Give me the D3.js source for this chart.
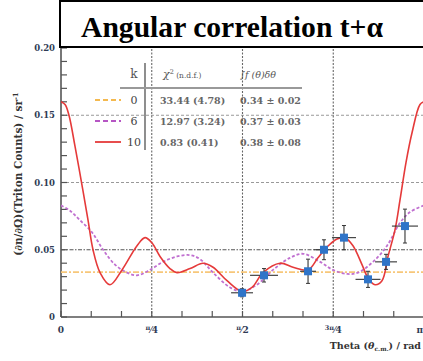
<!DOCTYPE html>
<html><head><meta charset="utf-8">
<script src="https://cdn.jsdelivr.net/npm/d3@7"></script>
<style>html,body{margin:0;padding:0;background:#fff;overflow:hidden}</style>
</head><body><svg id="c" width="423" height="361"></svg>
<script>
// ---- data (theta in rad, value in counts/sr) ----
const redTheta = [0,0.035,0.069,0.121,0.190,0.234,0.277,0.338,0.424,0.528,0.658,0.727,0.788,0.857,0.943,1.004,1.117,1.229,1.316,1.437,1.567,1.653,1.748,1.895,2.008,2.138,2.224,2.302,2.389,2.458,2.527,2.605,2.657,2.718,2.778,2.830,2.891,2.934,2.986,3.038,3.107,3.142];
const redVal   = [0.160,0.158,0.150,0.127,0.094,0.072,0.050,0.033,0.024,0.035,0.053,0.059,0.055,0.045,0.036,0.033,0.036,0.040,0.037,0.027,0.019,0.022,0.033,0.040,0.037,0.035,0.044,0.052,0.058,0.059,0.053,0.039,0.029,0.024,0.027,0.045,0.065,0.087,0.115,0.137,0.158,0.160];
const purpleTheta = [0,0.078,0.164,0.268,0.364,0.467,0.571,0.658,0.770,0.883,1.004,1.117,1.203,1.316,1.463,1.567,1.696,1.835,1.982,2.095,2.242,2.354,2.475,2.571,2.700,2.822,2.934,3.021,3.142];
const purpleVal   = [0.083,0.079,0.072,0.063,0.050,0.039,0.033,0.031,0.035,0.041,0.045,0.046,0.043,0.033,0.022,0.019,0.024,0.035,0.044,0.047,0.041,0.035,0.032,0.033,0.041,0.053,0.070,0.078,0.083];
const orangeTheta = [0, 3.142];
const orangeVal   = [0.0334, 0.0334];
const ptTheta = [1.567,1.757,2.138,2.276,2.449,2.657,2.813,2.977];
const ptVal   = [0.018,0.031,0.034,0.050,0.059,0.028,0.041,0.0676];
const ptErrTheta = [0.095,0.121,0.069,0.087,0.104,0.108,0.095,0.113];
const ptErrVal   = [0.003,0.005,0.009,0.0074,0.009,0.006,0.0056,0.0126];
const yTicks = [0,0.05,0.10,0.15,0.20];
const yTickLabels = ["0","0.05","0.10","0.15","0.20"];
const xMajorK = [0,1,2,3,4];           // multiples of pi/4
const legendK = ["0","6","10"];
const legendChi = ["33.44 (4.78)","12.97 (3.24)","0.83 (0.41)"];
const legendInt = ["0.34 ± 0.02","0.37 ± 0.03","0.38 ± 0.08"];
const legendColors = ["#f4b94f","#b656c4","#e53a3a"];

// ---- scales ----
const svg = d3.select("#c");
const x = d3.scaleLinear().domain([0, Math.PI]).range([61, 424]);
const y = d3.scaleLinear().domain([0, 0.20]).range([317, 48]);
const labCol = "#2f3b55";

// grid
const gh = svg.append("g");
[0.05,0.10,0.15].forEach(v=>{
  gh.append("line").attr("x1",x(0)).attr("x2",x(Math.PI)).attr("y1",y(v)).attr("y2",y(v))
    .attr("stroke", v===0.05?"#555":"#999").attr("stroke-width",v===0.05?1.2:1)
    .attr("stroke-dasharray", v===0.05?"4,1.5,1.5,1.5":"3,2");
});
[1,2,3].forEach(k=>{
  gh.append("line").attr("x1",x(k*Math.PI/4)).attr("x2",x(k*Math.PI/4)).attr("y1",y(0)).attr("y2",y(0.2))
    .attr("stroke","#666").attr("stroke-width",1.1).attr("stroke-dasharray","2,1.5");
});

// minor ticks
const minorY = d3.range(0,0.2001,0.01);
svg.append("g").selectAll("line").data(minorY).join("line")
  .attr("x1",x(0)).attr("x2",x(0)+6).attr("y1",d=>y(d)).attr("y2",d=>y(d))
  .attr("stroke","#555").attr("stroke-width",1.2);
const minorX = d3.range(0,13).map(i=>i*Math.PI/12);
svg.append("g").selectAll("line").data(minorX).join("line")
  .attr("x1",d=>x(d)).attr("x2",d=>x(d)).attr("y1",y(0)).attr("y2",y(0)-6)
  .attr("stroke","#555").attr("stroke-width",1.2);

// axes lines
svg.append("line").attr("x1",x(0)).attr("x2",x(0)).attr("y1",y(0)).attr("y2",y(0.2)).attr("stroke","#555").attr("stroke-width",1.6);
svg.append("line").attr("x1",x(0)).attr("x2",x(Math.PI)).attr("y1",y(0)).attr("y2",y(0)).attr("stroke","#555").attr("stroke-width",1.6);

// y tick labels
svg.append("g").selectAll("text").data(yTicks).join("text")
  .attr("x",55).attr("y",d=>y(d)+3).attr("text-anchor","end")
  .attr("font-family","DejaVu Serif").attr("font-weight","bold").attr("font-size",8.5)
  .attr("fill",labCol).text((d,i)=>yTickLabels[i]);

// x tick labels
const xl = svg.append("g").attr("font-family","DejaVu Serif").attr("font-weight","bold").attr("fill",labCol);
xMajorK.forEach(k=>{
  const px = x(k*Math.PI/4);
  const t = xl.append("text").attr("x",px).attr("y",333).attr("text-anchor","middle").attr("font-size",9);
  if(k===0){ t.text("0"); }
  else if(k===4){ t.attr("x",423).attr("text-anchor","end").text("π"); }
  else {
    const num = k===3 ? "3π" : "π";
    const den = k===2 ? "2" : "4";
    t.append("tspan").attr("font-size",6.5).attr("dy",-3).text(num);
    t.append("tspan").attr("font-size",9).attr("dy",3).text("⁄"+den);
  }
});

// axis titles
svg.append("text").attr("x",421).attr("y",349).attr("text-anchor","end")
  .attr("font-family","DejaVu Serif").attr("font-weight","bold").attr("font-size",9.5).attr("fill","#333")
  .html('Theta (<tspan font-style="italic">θ</tspan><tspan font-size="6" dy="2">c.m.</tspan><tspan dy="-2">) / rad</tspan>');
svg.append("text").attr("transform","translate(22,174) rotate(-90)").attr("text-anchor","middle")
  .attr("font-family","DejaVu Serif").attr("font-weight","bold").attr("font-size",10.5).attr("fill","#333")
  .html('(∂n/∂Ω)(Triton Counts) / sr<tspan font-size="7" dy="-4">-1</tspan>');

// curves
svg.append("clipPath").attr("id","pc").append("rect")
  .attr("x",x(0)).attr("y",y(0.2)).attr("width",x(Math.PI)-x(0)).attr("height",y(0)-y(0.2));
const line = d3.line().x(d=>x(d[0])).y(d=>y(d[1])).curve(d3.curveCatmullRom.alpha(0.5));
const cg = svg.append("g").attr("clip-path","url(#pc)");
cg.append("path").datum(d3.zip(orangeTheta,orangeVal)).attr("d",line).attr("fill","none")
  .attr("stroke","#f7c77a").attr("stroke-width",1.8).attr("stroke-dasharray","6,2,2,2");
cg.append("path").datum(d3.zip(purpleTheta,purpleVal)).attr("d",line).attr("fill","none")
  .attr("stroke","#c070d0").attr("stroke-width",1.8).attr("stroke-dasharray","3,2");
cg.append("path").datum(d3.zip(redTheta,redVal)).attr("d",line).attr("fill","none")
  .attr("stroke","#e53a3a").attr("stroke-width",1.6);

// data points
const pts = d3.range(ptTheta.length).map(i=>({t:ptTheta[i],v:ptVal[i],et:ptErrTheta[i],ev:ptErrVal[i]}));
const pg = svg.append("g").selectAll("g").data(pts).join("g");
pg.append("line").attr("x1",d=>x(d.t-d.et)).attr("x2",d=>x(d.t+d.et)).attr("y1",d=>y(d.v)).attr("y2",d=>y(d.v)).attr("stroke","#333").attr("stroke-width",1.1);
pg.append("line").attr("x1",d=>x(d.t)).attr("x2",d=>x(d.t)).attr("y1",d=>y(d.v-d.ev)).attr("y2",d=>y(d.v+d.ev)).attr("stroke","#333").attr("stroke-width",1.1);
pg.append("line").attr("x1",d=>x(d.t)-2).attr("x2",d=>x(d.t)+2).attr("y1",d=>y(d.v-d.ev)).attr("y2",d=>y(d.v-d.ev)).attr("stroke","#333");
pg.append("line").attr("x1",d=>x(d.t)-2).attr("x2",d=>x(d.t)+2).attr("y1",d=>y(d.v+d.ev)).attr("y2",d=>y(d.v+d.ev)).attr("stroke","#333");
pg.append("rect").attr("x",d=>x(d.t)-4).attr("y",d=>y(d.v)-4).attr("width",8).attr("height",8).attr("fill","#2f74c8");

// legend table
const lg = svg.append("g").attr("font-family","DejaVu Serif").attr("fill","#444");
lg.append("line").attr("x1",145).attr("x2",145).attr("y1",63).attr("y2",150).attr("stroke","#444").attr("stroke-width",1.2);
lg.append("line").attr("x1",120).attr("x2",302).attr("y1",88).attr("y2",88).attr("stroke","#999").attr("stroke-width",2);
lg.append("text").attr("x",134).attr("y",78).attr("text-anchor","middle").attr("font-size",12).attr("fill","#555").text("k");
lg.append("text").attr("x",163).attr("y",78).attr("font-size",11).attr("fill","#555")
  .html('<tspan font-style="italic">χ</tspan><tspan font-size="6.5" dy="-4">2</tspan><tspan font-size="7.5" dy="4"> (n.d.f.)</tspan>');
lg.append("text").attr("x",240).attr("y",78).attr("font-size",9.5).attr("font-style","italic").attr("fill","#555").text("∫f (θ)δθ");
const rowsY = [104,125,146];
legendK.forEach((k,i)=>{
  const ry = rowsY[i];
  const ls = lg.append("line").attr("x1",95).attr("x2",121).attr("y1",ry-4).attr("y2",ry-4)
    .attr("stroke",legendColors[i]).attr("stroke-width",1.8);
  if(i<2) ls.attr("stroke-dasharray","5,3");
  lg.append("text").attr("x",134).attr("y",ry).attr("text-anchor","middle").attr("font-size",11).attr("fill","#444").text(k);
  lg.append("text").attr("x",160).attr("y",ry).attr("font-size",9.5).attr("font-weight","bold").attr("fill","#666").text(legendChi[i]);
  lg.append("text").attr("x",240).attr("y",ry).attr("font-size",9.5).attr("font-weight","bold").attr("fill","#666").text(legendInt[i]);
});

// title box
svg.append("rect").attr("x",60).attr("y",1).attr("width",380).attr("height",46)
  .attr("fill","#fff").attr("stroke","#000").attr("stroke-width",2);
svg.append("text").attr("x",81).attr("y",37).attr("font-family","Liberation Serif")
  .attr("font-weight","bold").attr("font-size",29).attr("fill","#000")
  .attr("textLength",302).attr("lengthAdjust","spacingAndGlyphs").text("Angular correlation t+α");
</script>
</body></html>
